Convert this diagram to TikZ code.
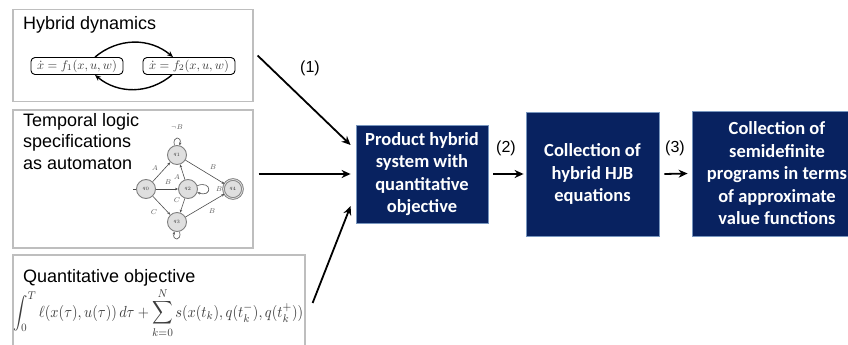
\documentclass[tikz,border=0pt]{standalone}
\usepackage[no-math]{fontspec}
\setmainfont{Liberation Sans}
\newfontfamily\boxfont{Carlito}
\usepackage{graphicx}
\usetikzlibrary{arrows.meta}
\definecolor{navy}{RGB}{8,34,96}
\definecolor{navyedge}{RGB}{120,150,190}
\definecolor{framegray}{RGB}{190,190,190}
\definecolor{inkgray}{RGB}{60,60,60}
\begin{document}
\begin{tikzpicture}[x=1pt,y=-1pt,
  frame/.style={draw=framegray,line width=1.2pt,inner sep=0},
  bluebox/.style={draw=navyedge,line width=0.8pt,fill=navy,text=white,
    font=\boxfont\bfseries\fontsize{18.5}{22.5}\selectfont,align=center,inner sep=0},
  bigarrow/.style={-{Stealth[length=9pt,width=8pt]},line width=1.8pt},
  heading/.style={font=\fontsize{18}{21.5}\selectfont,inner sep=0,align=left},
  steplabel/.style={font=\fontsize{16}{18}\selectfont,inner sep=0},
  mode/.style={draw,rounded corners=4pt,line width=0.9pt,minimum width=92pt,
    minimum height=17pt,inner sep=0,text=inkgray},
  modearrow/.style={-{Stealth[length=6pt,width=5pt]},line width=1.4pt},
  state/.style={circle,draw=gray,line width=0.9pt,fill=gray!25,minimum size=19pt,
    inner sep=0,font=\tiny,text=inkgray},
  tr/.style={-{Stealth[length=3pt,width=2.5pt]},draw=gray!60!black,line width=0.6pt},
  lbl/.style={font=\scriptsize,text=gray!70!black,inner sep=0}]
\useasboundingbox (0,0) rectangle (848,345);
\clip (0,0) rectangle (848,345);

% frames
\node[frame,minimum width=240pt,minimum height=92pt] (f1) at (133,55.5) {};
\node[frame,minimum width=240pt,minimum height=138pt] (f2) at (133,179) {};
\node[frame,minimum width=292pt,minimum height=105pt] (f3) at (159,307.5) {};

% headings
\node[heading,anchor=base west] (t1) at (23,30) {Hybrid dynamics};
\node[heading,anchor=north west] (t2) at (23,113) {Temporal logic\\specifications\\as automaton};
\node[heading,anchor=base west] (t3) at (23,282) {Quantitative objective};

% hybrid dynamics
\node[mode] (m1) at (77,66) {\scalebox{1.25}{$\dot x = f_1(x,u,w)$}};
\node[mode] (m2) at (189,66) {\scalebox{1.25}{$\dot x = f_2(x,u,w)$}};
\draw[modearrow] ([xshift=18pt]m1.north) to[out=40,in=140] ([xshift=-16pt]m2.north);
\draw[modearrow] ([xshift=-17pt]m2.south) to[out=-140,in=-40] ([xshift=18pt]m1.south);

% automaton
\node[state] (q0) at (146,189) {$q_0$};
\node[state] (q1) at (177,155) {$q_1$};
\node[state] (q2) at (188,189) {$q_2$};
\node[state] (q3) at (177,222) {$q_3$};
\node[state,double=gray!25,double distance=0.8pt] (q4) at (233,189) {$q_4$};
\coordinate (init) at (133,189);
\draw[gray!60!black,line width=0.6pt] (init) -- (q0);
\draw[tr] (q0) -- (q1);
\draw[tr] (q0) -- (q2);
\draw[tr] (q0) -- (q3);
\draw[tr] (q2) -- (q1);
\draw[tr] (q2) -- (q3);
\draw[tr] (q1) -- (q4);
\draw[tr] (q3) -- (q4);
\draw[tr] (q1) to[loop above,min distance=9pt,looseness=5] (q1);
\draw[tr] (q2) to[out=20,in=-20,min distance=11pt,looseness=6] (q2);
\draw[tr] (q3) to[loop below,min distance=9pt,looseness=5] (q3);
\node[lbl] (la1) at (155,168) {$A$};
\node[lbl] (lb1) at (168,182) {$B$};
\node[lbl] (lc1) at (154,212) {$C$};
\node[lbl] (la2) at (177,177) {$A$};
\node[lbl] (lc2) at (177,200) {$C$};
\node[lbl] (lb2) at (213,167) {$B$};
\node[lbl] (lb3) at (212,211) {$B$};
\node[lbl] (lb4) at (219,189) {$B$};
\node[lbl] (lnb) at (177,127) {$\neg B$};

% objective formula
\node[anchor=west,inner sep=0,text=inkgray] (obj) at (13,313)
  {\scalebox{1}[1.12]{\resizebox{290pt}{!}{$\displaystyle\int_0^T \ell(x(\tau),u(\tau))\,d\tau+\sum_{k=0}^{N} s(x(t_k),q(t_k^-),q(t_k^+))$}}};

% blue boxes
\node[bluebox,minimum width=132pt,minimum height=98pt] (p) at (422,174)
  {Product hybrid\\system with\\quantitative\\objective};
\node[bluebox,minimum width=133pt,minimum height=124pt] (h) at (592.5,174)
  {Collection of\\hybrid HJB\\equations};
\node[bluebox,minimum width=170pt,minimum height=125pt] (s) at (777,173.5)
  {Collection of\\semidefinite\\programs in terms\\of approximate\\value functions};

% arrows
\draw[bigarrow] ([xshift=4pt]f1.east) -- ([xshift=-5pt,yshift=29pt]p.west);
\draw[bigarrow] ([xshift=5pt]f2.east |- p.west) -- ([xshift=-5pt]p.west);
\draw[bigarrow] ([xshift=7pt,yshift=4.5pt]f3.east) -- ([xshift=-5pt,yshift=-32pt]p.west);
\draw[bigarrow] ([xshift=5pt]p.east) -- ([xshift=-2pt]h.west);
\draw[bigarrow] ([xshift=5pt]h.east) -- ([xshift=-4pt]s.west);

\node[steplabel] (n1) at (310,68) {(1)};
\node[steplabel] (n2) at (506,148) {(2)};
\node[steplabel] (n3) at (675,148) {(3)};
\end{tikzpicture}
\end{document}
